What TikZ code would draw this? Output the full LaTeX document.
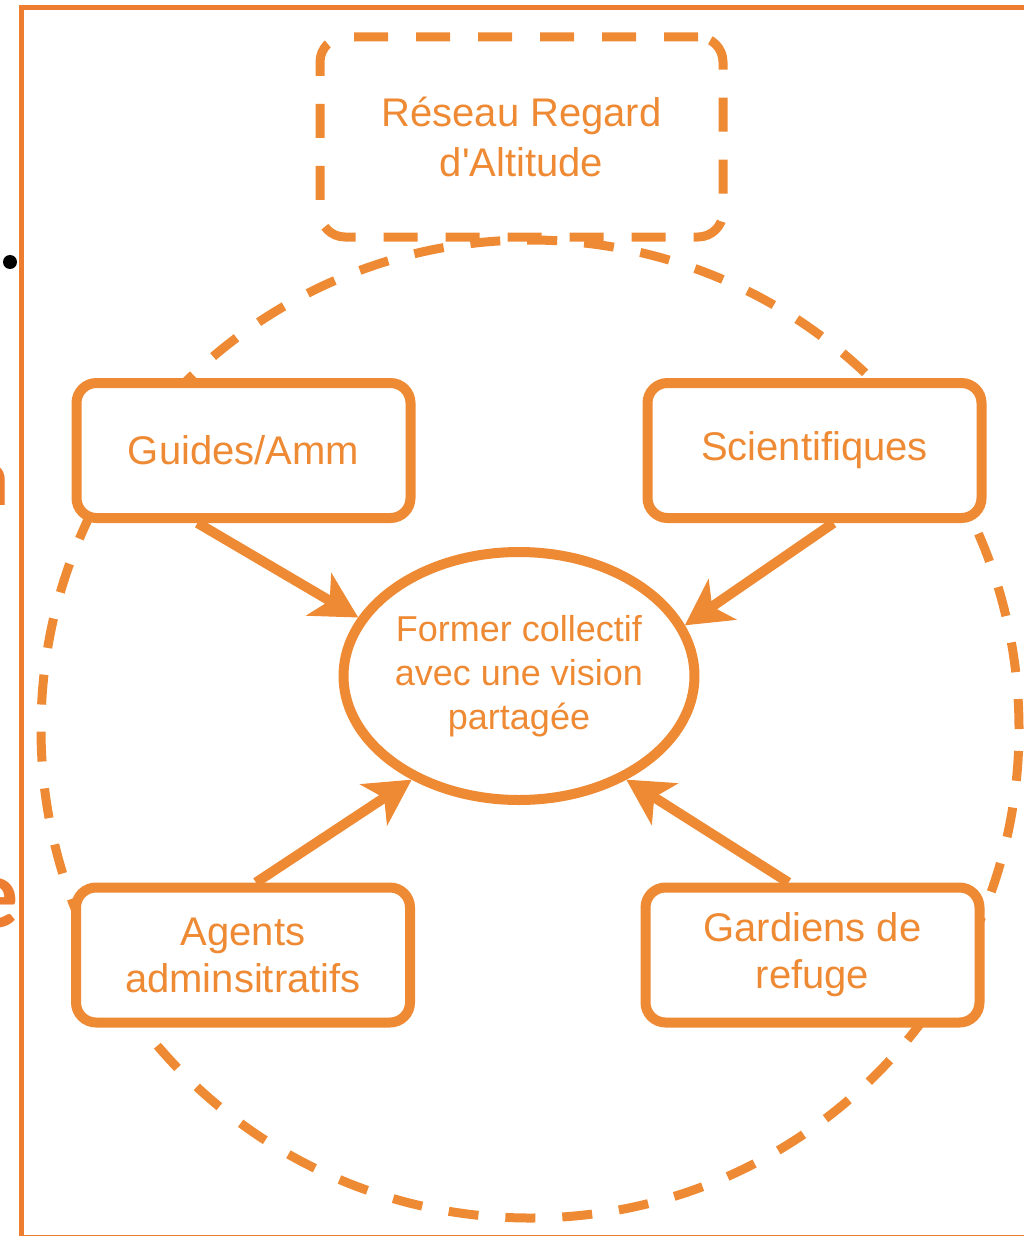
\documentclass[tikz,border=0pt]{standalone}
\usepackage{fontspec}
\setmainfont{Liberation Sans}
\newfontfamily\slidefont{Carlito}
\usetikzlibrary{arrows.meta,shapes.geometric}
\definecolor{dorange}{RGB}{239,138,52}
\definecolor{forange}{RGB}{237,125,49}
\begin{document}
\begin{tikzpicture}[x=1pt,y=-1pt,
  boxst/.style={draw=dorange, line width=10pt, rounded corners=20pt, fill=white,
    minimum width=334pt, minimum height=135pt, inner sep=0pt, text=dorange,
    font=\fontsize{40}{47}\selectfont, align=center},
  topbox/.style={draw=dorange, line width=9pt, rounded corners=25pt,
    dash pattern=on 34pt off 28pt, minimum width=403pt, minimum height=200pt,
    inner sep=0pt, text=dorange, font=\fontsize{40}{50}\selectfont, align=center},
  ellst/.style={ellipse, draw=dorange, line width=10pt, fill=white,
    minimum width=338pt, minimum height=248pt, inner sep=0pt, text=dorange,
    font=\fontsize{36}{44}\selectfont, align=center},
  ringst/.style={circle, draw=dorange, line width=9pt, dash pattern=on 30pt off 27pt,
    minimum size=978pt, inner sep=0pt},
  arr/.style={draw=dorange, line width=10pt,
    -{Stealth[length=46pt, width=50pt, inset=13pt, line width=1pt]}},
  slidetxt/.style={text=forange, inner sep=0pt, font=\slidefont\bfseries}
]
\useasboundingbox (0,0) rectangle (1024,1236);
\clip (0,0) rectangle (1024,1236);

% slide remnants and frame
\fill[black] (10,262) circle[radius=7pt];
\node[slidetxt, anchor=base east, font=\slidefont\bfseries\fontsize{82}{82}\selectfont] (remn) at (10,505) {n};
\node[slidetxt, anchor=base east, font=\slidefont\bfseries\fontsize{100}{100}\selectfont] (reme) at (19,927) {e};
\draw[forange, line width=5pt] (21.5,1237.5) -- (21.5,7.5) -- (1040,7.5);
\draw[forange, line width=5pt] (21.5,1237.5) -- (1040,1237.5);

% dashed ring
\node[ringst] (ring) at (530,729) {};

% top dashed box
\node[topbox] (top) at (521.5,137) {Réseau Regard\\d\textquotesingle Altitude};

% boxes
\node[boxst] (g) at (243.5,450.5) {Guides/Amm};
\node[boxst] (s) at (814.5,450.5) {Scientifiques};
\node[boxst] (a) at (243,955) {Agents\\adminsitratifs};
\node[boxst] (r) at (812.5,955) {Gardiens de\\refuge};

% centre ellipse
\node[ellst] (e) at (519,676) {Former collectif\\avec une vision\\partagée};

% arrows
\draw[arr] ([xshift=-46pt]g.south) -- (e.160);
\draw[arr] ([xshift=19pt]s.south) -- (e.17);
\draw[arr] ([xshift=13pt]a.north) -- (e.224);
\draw[arr] ([xshift=-24pt]r.north) -- (e.316);
\end{tikzpicture}
\end{document}
